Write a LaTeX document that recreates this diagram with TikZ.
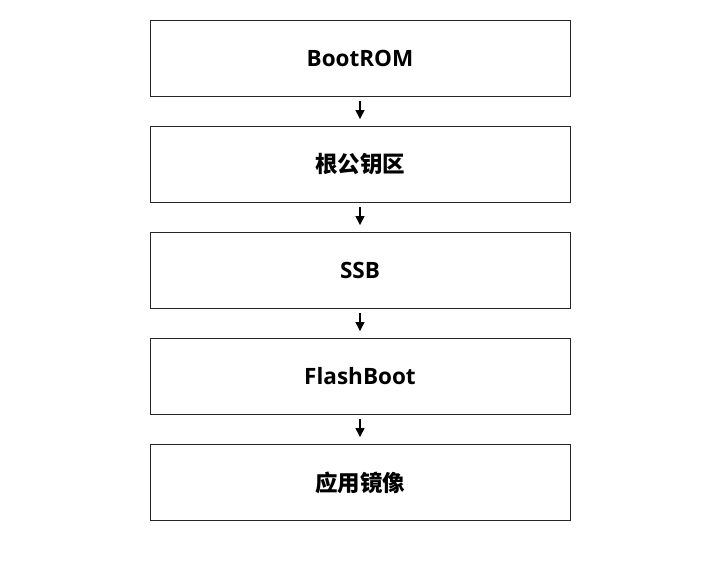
\documentclass[tikz,border=0pt]{standalone}
\usepackage{fontspec}
\setmainfont{Open Sans}
\newfontfamily\cjk{Noto Sans CJK SC}
\usetikzlibrary{arrows.meta}
\begin{document}
\begin{tikzpicture}[x=1pt,y=-1pt,
  stepbox/.style={draw=black!85,line width=0.9pt,minimum width=420pt,minimum height=76pt,inner sep=0pt,font=\fontsize{22.5}{26}\selectfont\bfseries},
  conn/.style={line width=1.3pt,-{Triangle[width=9pt,length=9pt]},shorten <=4.5pt,shorten >=7pt}]
\useasboundingbox (0,0) rectangle (720,570);
\node[stepbox] (a) at (360,58.5) {BootROM};
\node[stepbox] (b) at (360,164.5) {\cjk 根公钥区};
\node[stepbox] (c) at (360,270.5) {SSB};
\node[stepbox] (d) at (360,376.5) {FlashBoot};
\node[stepbox] (e) at (360,482.5) {\cjk 应用镜像};
\draw[conn] (a) -- (b);
\draw[conn] (b) -- (c);
\draw[conn] (c) -- (d);
\draw[conn] (d) -- (e);
\end{tikzpicture}
\end{document}
